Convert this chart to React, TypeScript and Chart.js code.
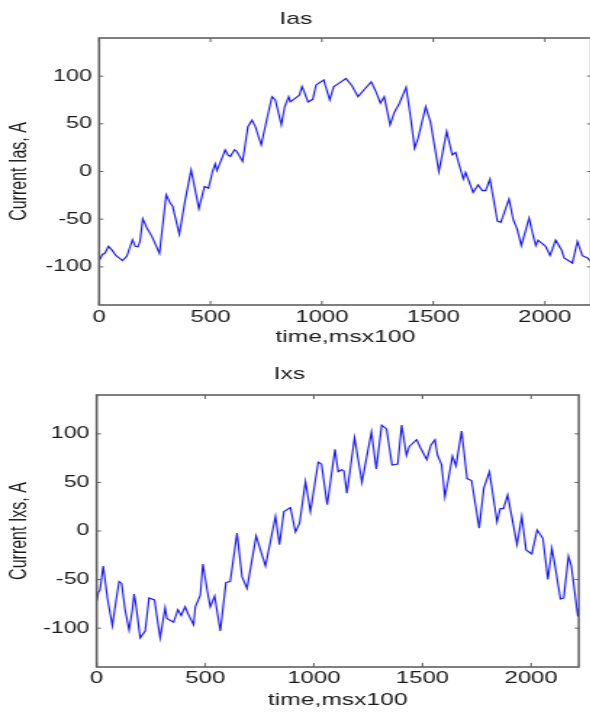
import React, { useEffect, useRef } from "react";
import { Chart, registerables } from "chart.js";

Chart.register(...registerables);

// ---- data (time in ms x100, current in A) ----
const iasTime = [0, 15, 27, 42, 60, 75, 105, 124, 150, 162, 174, 184, 196, 214, 237, 271, 301, 319, 330, 360, 387, 413, 431, 448, 473, 491, 509, 521, 529, 548, 566, 578, 589, 608, 618, 644, 668, 686, 701, 728, 749, 776, 791, 818, 833, 851, 858, 881, 899, 911, 920, 938, 959, 974, 1008, 1035, 1053, 1076, 1108, 1135, 1162, 1190, 1221, 1240, 1263, 1280, 1306, 1325, 1348, 1378, 1399, 1416, 1432, 1466, 1488, 1525, 1560, 1585, 1600, 1635, 1645, 1679, 1701, 1720, 1735, 1754, 1788, 1803, 1840, 1859, 1877, 1895, 1930, 1945, 1960, 1970, 2004, 2024, 2049, 2075, 2087, 2124, 2147, 2169, 2192, 2207];
const iasValue = [-94, -87, -85.5, -78.5, -83, -88, -93.5, -89, -71.5, -78.5, -79, -73, -49.5, -59, -68, -86, -24.5, -33, -36.5, -66, -29.5, 1.7, -19, -39, -15.7, -17.5, 0, 8, 1, 12, 22.7, 17.5, 15.7, 22.7, 21, 10.5, 47, 54, 47, 28, 50.6, 78.5, 75, 49, 68, 78.5, 73, 77, 80, 89, 84, 73, 75.7, 90.7, 96, 75, 89, 92.5, 97.5, 90, 78.5, 86, 94, 85, 71.6, 78.5, 49, 62, 71.6, 88.4, 55, 24.5, 35, 68, 51.3, 0, 42, 17.5, 20, -8, -1, -22, -14, -20, -20, -8, -52, -53.4, -29, -50.6, -61, -77.8, -48.8, -64.5, -77.8, -72, -78.5, -88, -72, -82, -90.7, -96, -73.3, -88.3, -90.7, -94];

const ixsTime = [0, 8, 15, 30, 50, 72, 90, 103, 115, 130, 149, 165, 172, 180, 200, 223, 241, 266, 292, 315, 323, 354, 374, 389, 407, 420, 446, 454, 477, 489, 508, 523, 543, 569, 595, 615, 646, 669, 692, 734, 754, 777, 823, 841, 862, 892, 915, 934, 961, 984, 1020, 1035, 1061, 1097, 1112, 1128, 1138, 1152, 1187, 1221, 1265, 1287, 1312, 1334, 1360, 1386, 1404, 1426, 1439, 1473, 1490, 1520, 1538, 1557, 1569, 1588, 1603, 1618, 1638, 1654, 1680, 1705, 1726, 1761, 1782, 1808, 1843, 1858, 1873, 1892, 1935, 1957, 1977, 2003, 2028, 2054, 2077, 2096, 2111, 2135, 2150, 2172, 2185, 2215, 2220];
const ixsValue = [-72, -63, -61, -36, -70, -97.5, -70, -52, -54, -80, -102, -80, -65, -75, -110, -103, -69, -71, -110, -79, -90, -94, -81, -87, -78, -85, -96.5, -78, -66, -34, -60, -78, -67, -103, -53, -52, -2, -47, -59, -5, -19.5, -36, 15, -14, 20, 24, -1, 8, 51, 20, 71, 69, 27, 84, 61, 63, 62, 39, 96, 50, 102, 64, 109, 105, 68, 69, 109, 78, 87, 94, 86, 73.5, 88, 94, 78, 68, 35, 52, 77, 67, 103, 54, 52, 3, 44, 61, 9.5, 23, 23, 37, -14, 15, -19.5, -23.6, 1, -7.5, -50, -18, -37, -70, -69, -26, -36, -88, -79];

const xTickValues = [0, 500, 1000, 1500, 2000];
const yTickValues = [-100, -50, 0, 50, 100];
const yMin = -140;
const yMax = 140;

const FONT = "'Liberation Sans', Arial, Helvetica, sans-serif";
const STRETCH = 1.45;
const TEXT = "#1a1a1a";

const boxPlugin = {
  id: "matlabBox",
  afterDraw(chart: any) {
    const { ctx, chartArea } = chart;
    const { left, right, top, bottom } = chartArea;
    const xs = chart.scales.x;
    const ys = chart.scales.y;
    ctx.save();
    ctx.strokeStyle = "#606060";
    ctx.lineWidth = 1;
    ctx.beginPath();
    xs.ticks.forEach((t: any) => {
      const p = xs.getPixelForValue(t.value);
      ctx.moveTo(p, top);
      ctx.lineTo(p, top + 4);
      ctx.moveTo(p, bottom);
      ctx.lineTo(p, bottom - 4);
    });
    ys.ticks.forEach((t: any) => {
      const p = ys.getPixelForValue(t.value);
      ctx.moveTo(left, p);
      ctx.lineTo(left + 3, p);
      ctx.moveTo(right, p);
      ctx.lineTo(right - 3, p);
    });
    ctx.stroke();
    ctx.lineWidth = 1.6;
    ctx.strokeRect(left, top, right - left, bottom - top);
    ctx.restore();
  },
};

type PanelProps = {
  times: number[];
  values: number[];
  title: string;
  yLabel: string;
  xMax: number;
  widthAttr: number;
  cssWidth: number;
  height: number;
  top: number;
  plotLeft: number;
  padRight: number;
  titlePadTop: number;
  titlePadBottom: number;
  xAxisHeight: number;
  xTickPad: number;
  xTitlePad: number;
};

function Panel(p: PanelProps) {
  const ref = useRef<HTMLCanvasElement | null>(null);
  useEffect(() => {
    if (!ref.current) return;
    const data = p.times.map((t, i) => ({ x: t, y: p.values[i] }));
    const chart = new Chart(ref.current, {
      type: "line",
      data: {
        datasets: [
          {
            data,
            borderColor: "rgb(25,25,255)",
            borderWidth: 1.15,
            pointRadius: 0,
            tension: 0,
            fill: false,
          },
        ],
      },
      options: {
        animation: false,
        responsive: false,
        devicePixelRatio: 1,
        parsing: false as any,
        layout: { padding: { left: 0, right: p.padRight, top: 0, bottom: 0 } },
        plugins: {
          legend: { display: false },
          tooltip: { enabled: false },
          title: {
            display: true,
            text: p.title,
            color: TEXT,
            font: { family: FONT, size: 17, weight: "normal" as any, lineHeight: 1.2 },
            padding: { top: p.titlePadTop, bottom: p.titlePadBottom },
          },
        },
        scales: {
          x: {
            type: "linear",
            min: 0,
            max: p.xMax,
            grid: { display: false, drawTicks: false },
            border: { display: false },
            afterBuildTicks: (s: any) => {
              s.ticks = xTickValues.map((v) => ({ value: v }));
            },
            ticks: {
              autoSkip: false,
              maxRotation: 0,
              padding: p.xTickPad,
              color: TEXT,
              font: { family: FONT, size: 16.5, lineHeight: 1.2 },
              callback: (v: any) => String(v),
            },
            title: {
              display: true,
              text: "time,msx100",
              color: TEXT,
              font: { family: FONT, size: 17, lineHeight: 1.2 },
              padding: { top: 0, bottom: p.xTitlePad },
            },
            afterFit: (s: any) => {
              s.height = p.xAxisHeight;
            },
          },
          y: {
            type: "linear",
            min: yMin,
            max: yMax,
            grid: { display: false, drawTicks: false },
            border: { display: false },
            afterBuildTicks: (s: any) => {
              s.ticks = yTickValues.map((v) => ({ value: v }));
            },
            ticks: {
              autoSkip: false,
              padding: 5,
              color: TEXT,
              font: { family: FONT, size: 16, lineHeight: 1.2 },
              callback: (v: any) => String(v),
            },
            title: {
              display: true,
              text: p.yLabel,
              color: TEXT,
              font: { family: FONT, size: 16, lineHeight: 1.2 },
              padding: { top: 4.2, bottom: 0 },
            },
            afterFit: (s: any) => {
              s.width = p.plotLeft;
            },
          },
        },
      },
      plugins: [boxPlugin],
    });
    return () => chart.destroy();
  }, []);
  return (
    <canvas
      ref={ref}
      width={p.widthAttr}
      height={p.height}
      style={{
        position: "absolute",
        left: 0,
        top: p.top,
        width: p.cssWidth + "px",
        height: p.height + "px",
        display: "block",
      }}
    />
  );
}

export default function App() {
  return (
    <div
      style={{
        position: "absolute",
        left: 0,
        top: 0,
        width: 590,
        height: 712,
        overflow: "hidden",
        background: "#fff",
      }}
    >
      <Panel
        times={iasTime}
        values={iasValue}
        title="Ias"
        yLabel="Current Ias, A"
        xMax={2210}
        widthAttr={410}
        cssWidth={410 * STRETCH}
        height={350}
        top={0}
        plotLeft={99 / STRETCH}
        padRight={410 - 591 / STRETCH}
        titlePadTop={9.6}
        titlePadBottom={8}
        xAxisHeight={45}
        xTickPad={3}
        xTitlePad={2.8}
      />
      <Panel
        times={ixsTime}
        values={ixsValue}
        title="Ixs"
        yLabel="Current Ixs, A"
        xMax={2220}
        widthAttr={407}
        cssWidth={590}
        height={362}
        top={350}
        plotLeft={96.7 / STRETCH}
        padRight={407 - 579 / STRETCH}
        titlePadTop={14.6}
        titlePadBottom={10}
        xAxisHeight={45}
        xTickPad={2}
        xTitlePad={1.8}
      />
    </div>
  );
}
